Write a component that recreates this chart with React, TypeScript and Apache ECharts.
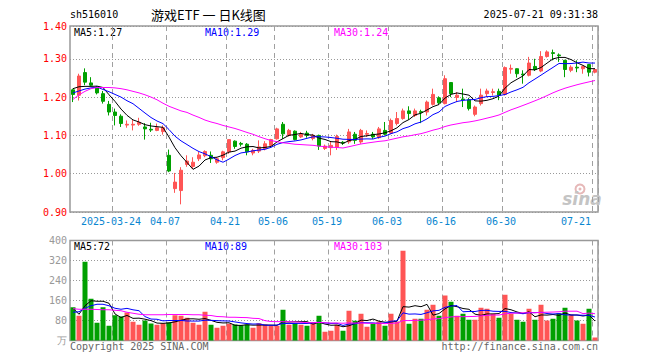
import React, { useEffect, useRef } from 'react';
import * as echarts from 'echarts';

// ---- categories (trading days) ----
const dates = [
  '2025-03-13','2025-03-14','2025-03-17','2025-03-18','2025-03-19','2025-03-20','2025-03-21','2025-03-24','2025-03-25','2025-03-26',
  '2025-03-27','2025-03-28','2025-03-31','2025-04-01','2025-04-02','2025-04-03','2025-04-07','2025-04-08','2025-04-09','2025-04-10',
  '2025-04-11','2025-04-14','2025-04-15','2025-04-16','2025-04-17','2025-04-18','2025-04-21','2025-04-22','2025-04-23','2025-04-24',
  '2025-04-25','2025-04-28','2025-04-29','2025-04-30','2025-05-06','2025-05-07','2025-05-08','2025-05-09','2025-05-12','2025-05-13',
  '2025-05-14','2025-05-15','2025-05-16','2025-05-19','2025-05-20','2025-05-21','2025-05-22','2025-05-23','2025-05-26','2025-05-27',
  '2025-05-28','2025-05-29','2025-05-30','2025-06-03','2025-06-04','2025-06-05','2025-06-06','2025-06-09','2025-06-10','2025-06-11',
  '2025-06-12','2025-06-13','2025-06-16','2025-06-17','2025-06-18','2025-06-19','2025-06-20','2025-06-23','2025-06-24','2025-06-25',
  '2025-06-26','2025-06-27','2025-06-30','2025-07-01','2025-07-02','2025-07-03','2025-07-04','2025-07-07','2025-07-08','2025-07-09',
  '2025-07-10','2025-07-11','2025-07-14','2025-07-15','2025-07-16','2025-07-17','2025-07-18','2025-07-21'
];

// ---- daily prices ----
const opens = [
  1.219,1.205,1.264,1.237,1.226,1.209,1.181,1.161,1.150,1.127,
  1.127,1.129,1.122,1.116,1.113,1.110,1.048,0.961,0.956,1.024,
  1.019,1.039,1.047,1.048,1.030,1.042,1.057,1.085,1.079,1.077,
  1.054,1.059,1.065,1.074,1.091,1.129,1.100,1.111,1.096,1.106,
  1.092,1.100,1.066,1.068,1.069,1.082,1.083,1.103,1.083,1.103,
  1.103,1.094,1.113,1.106,1.131,1.144,1.164,1.152,1.162,1.161,
  1.181,1.198,1.183,1.238,1.199,1.195,1.193,1.155,1.183,1.209,
  1.212,1.215,1.207,1.273,1.274,1.260,1.257,1.280,1.268,1.306,
  1.316,1.310,1.296,1.270,1.278,1.274,1.285,1.265
];
const closes = [
  1.207,1.255,1.239,1.231,1.211,1.189,1.161,1.152,1.131,1.129,
  1.129,1.134,1.117,1.114,1.120,1.120,1.007,0.978,1.009,1.033,
  1.030,1.049,1.058,1.039,1.039,1.057,1.089,1.071,1.077,1.057,
  1.061,1.070,1.078,1.089,1.117,1.104,1.113,1.089,1.103,1.100,
  1.100,1.072,1.072,1.074,1.097,1.080,1.109,1.087,1.113,1.105,
  1.096,1.117,1.103,1.139,1.144,1.164,1.157,1.164,1.160,1.187,
  1.207,1.185,1.248,1.209,1.205,1.193,1.170,1.174,1.205,1.216,
  1.214,1.205,1.277,1.275,1.261,1.258,1.289,1.272,1.306,1.318,
  1.314,1.308,1.272,1.278,1.276,1.280,1.265,1.272
];
const lows = [
  1.187,1.191,1.231,1.229,1.207,1.183,1.152,1.126,1.122,1.120,
  1.113,1.125,1.089,1.109,1.111,1.102,1.004,0.950,0.920,1.018,
  1.012,1.033,1.043,1.028,1.026,1.035,1.052,1.065,1.071,1.048,
  1.048,1.054,1.061,1.070,1.089,1.091,1.097,1.087,1.093,1.094,
  1.087,1.062,1.062,1.048,1.062,1.075,1.078,1.078,1.078,1.096,
  1.091,1.091,1.100,1.103,1.126,1.141,1.141,1.148,1.132,1.152,
  1.178,1.181,1.181,1.200,1.187,1.174,1.165,1.150,1.178,1.200,
  1.204,1.192,1.204,1.261,1.251,1.235,1.254,1.268,1.265,1.303,
  1.296,1.292,1.252,1.265,1.265,1.261,1.254,1.262
];
const highs = [
  1.222,1.261,1.275,1.252,1.229,1.216,1.190,1.170,1.155,1.139,
  1.141,1.146,1.132,1.133,1.131,1.126,1.063,1.002,1.017,1.048,
  1.043,1.057,1.061,1.058,1.043,1.060,1.089,1.087,1.083,1.080,
  1.065,1.087,1.085,1.091,1.120,1.135,1.117,1.113,1.109,1.112,
  1.104,1.102,1.076,1.083,1.102,1.085,1.117,1.109,1.117,1.113,
  1.109,1.122,1.135,1.144,1.161,1.170,1.176,1.170,1.167,1.191,
  1.222,1.202,1.257,1.239,1.213,1.222,1.198,1.178,1.222,1.222,
  1.222,1.222,1.280,1.285,1.275,1.270,1.305,1.300,1.320,1.322,
  1.324,1.314,1.297,1.283,1.296,1.282,1.286,1.274
];

// ---- daily volume (万) ----
const volumes = [
  133,99,315,167,71,133,59,101,96,112,
  75,63,80,68,63,69,72,101,99,91,
  71,63,115,63,51,59,67,64,61,64,
  51,69,64,60,59,123,63,69,63,59,
  73,99,35,39,63,39,119,79,107,55,
  69,76,59,107,76,359,67,87,87,123,
  143,99,180,155,99,107,83,83,131,127,
  107,91,183,107,83,75,127,83,143,80,
  87,109,131,103,80,67,127,12
];

// ---- moving-average values before the window is full ----
const ma5Head = [1.222, 1.227, 1.228, 1.228];
const ma10Head = [1.211, 1.216, 1.221, 1.224, 1.226, 1.220, 1.214, 1.207, 1.200];
const ma30Head = [
  1.194,1.206,1.215,1.222,1.225,1.225,1.225,1.224,1.222,1.219,
  1.215,1.211,1.206,1.200,1.193,1.184,1.176,1.170,1.164,1.160,
  1.153,1.147,1.140,1.135,1.131,1.126,1.122,1.118,1.113
];
const vMa5Head = [129, 105, 139, 159];
const vMa10Head = [113, 115, 129, 139, 145, 145, 139, 129, 125];
const vMa30Head = [
  127,125,125,125,124,123,123,121,119,113,
  109,105,103,103,103,103,104,104,104,104,
  103,103,101,100,96,95,93,93,92
];

// ---- tick labels ----
const labelDates = ['2025-03-24','2025-04-07','2025-04-21','2025-05-06','2025-05-19','2025-06-03','2025-06-16','2025-06-30','2025-07-21'];
const tickLabels = ['2025-03-24','04-07','04-21','05-06','05-19','06-03','06-16','06-30','07-21'];
const priceTickLabels = ['0.90','1.00','1.10','1.20','1.30','1.40'];
const volTickLabels = ['万','80','160','240','320','400'];

// ---- header / legend texts ----
const codeText = 'sh516010';
const titleText = '游戏ETF 一 日K线图';
const timeText = '2025-07-21 09:31:38';
const priceLegend = ['MA5:1.27', 'MA10:1.29', 'MA30:1.24'];
const volLegend = ['MA5:72', 'MA10:89', 'MA30:103'];
const footLeft = 'Copyright 2025 SINA.COM';
const footRight = 'http://finance.sina.com.cn';

const UP = '#ff5555';
const DOWN = '#00a000';
const MA_COLORS = ['#000000', '#0000ff', '#ff00ff'];
const MONO = '"DejaVu Sans Mono", monospace';

function movingAverage(values: number[], n: number, head: number[]) {
  return values.map((_, i) => {
    if (i < n - 1) return head[i];
    let s = 0;
    for (let j = i - n + 1; j <= i; j++) s += values[j];
    return +(s / n).toFixed(4);
  });
}

function txt(text: string, x: number, y: number, fill: string, font: string, align = 'left') {
  return {
    type: 'text',
    silent: true,
    style: { text, x, y, fill, font, textAlign: align, align, textVerticalAlign: 'middle', verticalAlign: 'middle' }
  };
}

export default function App() {
  const ref = useRef<HTMLDivElement>(null);

  useEffect(() => {
    document.body.style.margin = '0';
    const chart = echarts.init(ref.current as HTMLDivElement, null, { renderer: 'svg' });

    const candleData = dates.map((_, i) => [opens[i], closes[i], lows[i], highs[i]]);
    const volData = volumes.map((v, i) => ({
      value: v,
      itemStyle: { color: closes[i] >= opens[i] ? UP : DOWN }
    }));
    const priceMA = [
      movingAverage(closes, 5, ma5Head),
      movingAverage(closes, 10, ma10Head),
      movingAverage(closes, 30, ma30Head)
    ];
    const volMA = [
      movingAverage(volumes, 5, vMa5Head),
      movingAverage(volumes, 10, vMa10Head),
      movingAverage(volumes, 30, vMa30Head)
    ];

    const isLabelDate = (_i: number, v: string) => labelDates.indexOf(v) >= 0;
    const splitLine = {
      show: true,
      interval: isLabelDate,
      lineStyle: { color: '#a0a0a0', type: [5, 4], width: 1 }
    };

    const lineSeries = (data: number[], color: string, xi: number) => ({
      type: 'line',
      xAxisIndex: xi,
      yAxisIndex: xi,
      data,
      symbol: 'none',
      silent: true,
      z: 5,
      lineStyle: { color, width: 1 },
      itemStyle: { color }
    });

    const option: any = {
      animation: false,
      backgroundColor: '#ffffff',
      grid: [
        { left: 70, top: 26, width: 528, height: 186, show: true, borderColor: '#999', borderWidth: 1.5, backgroundColor: 'transparent' },
        { left: 70, top: 240.5, width: 528, height: 100, show: true, borderColor: '#999', borderWidth: 1.5, backgroundColor: 'transparent' }
      ],
      xAxis: [
        {
          type: 'category', gridIndex: 0, data: dates, boundaryGap: true,
          axisLine: { show: false }, axisTick: { show: false },
          axisLabel: {
            show: true,
            interval: isLabelDate,
            margin: 4,
            formatter: (v: string) => {
              const idx = labelDates.indexOf(v);
              const t = tickLabels[idx];
              return idx === labelDates.length - 1 ? '{e|' + t + '}' : '{n|' + t + '}';
            },
            rich: {
              n: { color: '#0a86d0', fontFamily: MONO, fontSize: 10, padding: [0, 8, 0, 0] },
              e: { color: '#0a86d0', fontFamily: MONO, fontSize: 10, padding: [0, 38, 0, 0] }
            }
          },
          splitLine
        },
        {
          type: 'category', gridIndex: 1, data: dates, boundaryGap: true,
          axisLine: { show: false }, axisTick: { show: false }, axisLabel: { show: false },
          splitLine
        }
      ],
      yAxis: [
        {
          type: 'value', gridIndex: 0, min: 0.9, max: 1.3856, interval: 0.1,
          axisLine: { show: false }, axisTick: { show: false },
          axisLabel: {
            color: '#ff0000', fontFamily: MONO, fontSize: 10, margin: 3,
            showMinLabel: true, showMaxLabel: true,
            formatter: (_v: number, i: number) => priceTickLabels[i]
          },
          splitLine: { show: true, lineStyle: { color: '#999', type: [1, 2], width: 1 } }
        },
        {
          type: 'value', gridIndex: 1, min: 0, max: 400, interval: 80,
          axisLine: { show: false }, axisTick: { show: false },
          axisLabel: {
            color: '#999', fontFamily: MONO, fontSize: 10, margin: 3,
            showMinLabel: true, showMaxLabel: true,
            formatter: (_v: number, i: number) => volTickLabels[i]
          },
          splitLine: { show: true, lineStyle: { color: '#999', type: [1, 2], width: 1 } }
        }
      ],
      series: [
        {
          type: 'candlestick',
          xAxisIndex: 0, yAxisIndex: 0,
          data: candleData,
          barWidth: 4,
          silent: true,
          itemStyle: { color: UP, color0: DOWN, borderColor: UP, borderColor0: DOWN, borderWidth: 1 }
        },
        lineSeries(priceMA[0], MA_COLORS[0], 0),
        lineSeries(priceMA[1], MA_COLORS[1], 0),
        lineSeries(priceMA[2], MA_COLORS[2], 0),
        {
          type: 'bar',
          xAxisIndex: 1, yAxisIndex: 1,
          data: volData,
          barWidth: 5,
          silent: true
        },
        lineSeries(volMA[0], MA_COLORS[0], 1),
        lineSeries(volMA[1], MA_COLORS[1], 1),
        lineSeries(volMA[2], MA_COLORS[2], 1)
      ],
      graphic: [
        txt(codeText, 70, 14, '#000', '10px ' + MONO),
        txt(titleText, 151, 14, '#000', '13px "Noto Sans CJK SC"'),
        txt(timeText, 598, 14, '#000', '10px ' + MONO, 'right'),
        txt(priceLegend[0], 74, 32, MA_COLORS[0], '10px ' + MONO),
        txt(priceLegend[1], 205, 32, MA_COLORS[1], '10px ' + MONO),
        txt(priceLegend[2], 334, 32, MA_COLORS[2], '10px ' + MONO),
        txt(volLegend[0], 74, 246, MA_COLORS[0], '10px ' + MONO),
        txt(volLegend[1], 205, 246, MA_COLORS[1], '10px ' + MONO),
        txt(volLegend[2], 334, 246, MA_COLORS[2], '10px ' + MONO),
        txt(footLeft, 70, 346, '#666', '10px ' + MONO),
        txt(footRight, 598, 346, '#666', '10px ' + MONO, 'right'),
        { type: 'circle', silent: true, shape: { cx: 580, cy: 189, r: 4.5 }, style: { fill: 'none', stroke: '#e6b8b8', lineWidth: 2 } },
        { type: 'circle', silent: true, shape: { cx: 580, cy: 189, r: 1.5 }, style: { fill: '#e6b8b8' } },
        txt('sina', 582, 199, '#c4c4c4', 'italic bold 17px "DejaVu Sans"', 'center')
      ]
    };

    chart.setOption(option);
    return () => chart.dispose();
  }, []);

  return <div ref={ref} style={{ width: 660, height: 360, position: 'absolute', left: 0, top: 0 }} />;
}
